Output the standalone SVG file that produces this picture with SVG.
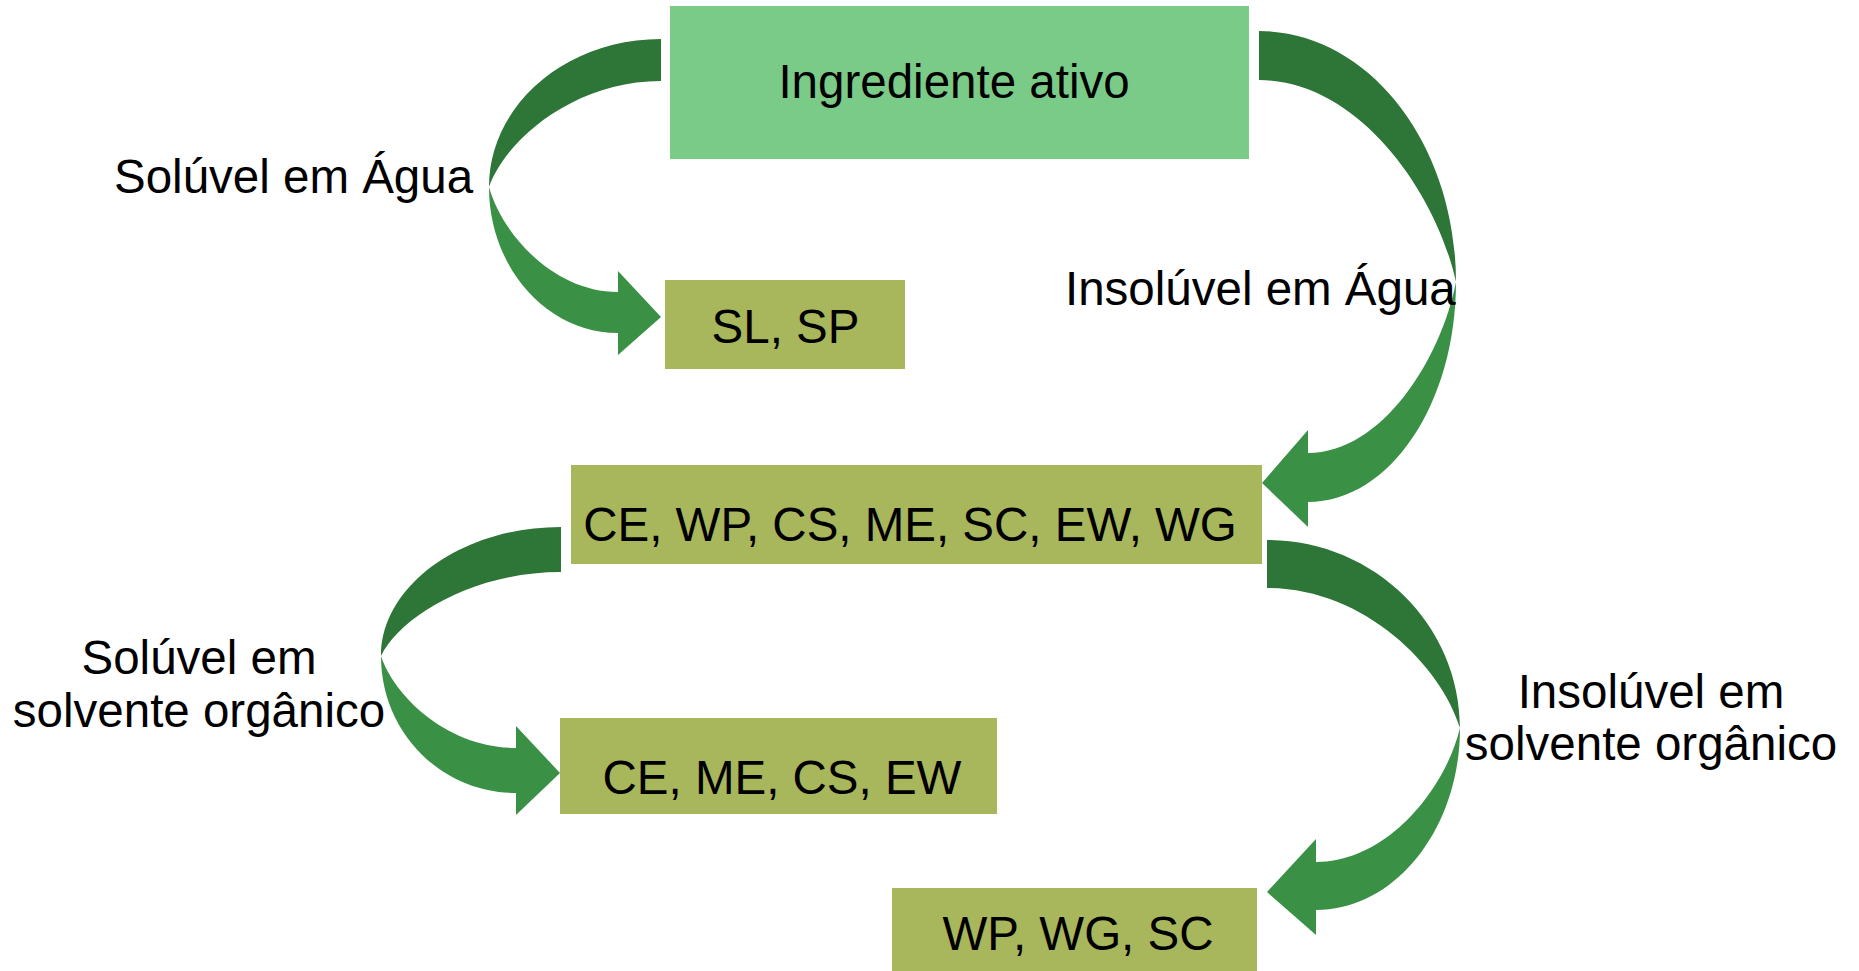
<svg xmlns="http://www.w3.org/2000/svg" width="1859" height="971" viewBox="0 0 1859 971">
<style>
.t{font-family:"Liberation Sans",Arial,sans-serif;font-size:47.5px;fill:#000}
.m{text-anchor:middle}
.top{fill:#7BCB88}
.ol{fill:#A8B65C}
.dk{fill:#2E7538}
.lt{fill:#3A9146}
</style>
<rect width="1859" height="971" fill="#ffffff"/>
<g id="connectors">
  <g id="arrow-soluvel-agua">
    <path class="dk" d="M661,39 C566,39 489,105 489,187 C506,139 575,81 661,81 Z"/>
    <path class="lt" d="M489,187 C489,267.6 547,333 618,333 L618,355 L661,317 L618,271 L618,292 C553.5,292 502,234 489,187 Z"/>
  </g>
  <g id="arrow-insoluvel-agua">
    <path class="dk" d="M1259,31 C1368,31 1456,143 1456,282 C1436,191 1357.5,80 1259,80 Z"/>
    <path class="lt" d="M1456,282 C1456,403.5 1390,502 1308,502 L1308,527 L1262,483 L1308,430 L1308,453 C1382,453 1441,359 1456,282 Z"/>
  </g>
  <g id="arrow-soluvel-solvente">
    <path class="dk" d="M561,527 C461.6,527 381,586 381,656 C399,618 471,572 561,572 Z"/>
    <path class="lt" d="M381,656 C381,732.6 441.4,793 516,793 L516,815 L560,773 L516,726 L516,748 C448.5,748 394.5,697 381,656 Z"/>
  </g>
  <g id="arrow-insoluvel-solvente">
    <path class="dk" d="M1267,540 C1373.6,540 1460,624.2 1460,728 C1440.7,665 1363.5,588 1267,588 Z"/>
    <path class="lt" d="M1460,728 C1460,828.5 1395.5,910 1316,910 L1316,935 L1267,892 L1316,839 L1316,862 C1388,862 1445.6,788 1460,728 Z"/>
  </g>
</g>
<g id="node-ingrediente">
  <rect class="top" x="670" y="6" width="579" height="153"/>
  <text class="t m" x="954" y="98">Ingrediente ativo</text>
</g>
<g id="node-sl-sp">
  <rect class="ol" x="665" y="280" width="240" height="89"/>
  <text class="t m" x="785.5" y="343">SL, SP</text>
</g>
<g id="node-ce-wp">
  <rect class="ol" x="571" y="465" width="691" height="99"/>
  <text class="t m" x="910" y="541">CE, WP, CS, ME, SC, EW, WG</text>
</g>
<g id="node-ce-me">
  <rect class="ol" x="560" y="718" width="437" height="96"/>
  <text class="t m" x="782" y="794">CE, ME, CS, EW</text>
</g>
<g id="node-wp-wg">
  <rect class="ol" x="892" y="888" width="365" height="90"/>
  <text class="t m" x="1078" y="950">WP, WG, SC</text>
</g>
<g id="labels">
  <text class="t" x="114" y="193">Solúvel em Água</text>
  <text class="t" x="1065" y="305">Insolúvel em Água</text>
  <text class="t m" x="199" y="674">Solúvel em</text>
  <text class="t m" x="199" y="727">solvente orgânico</text>
  <text class="t m" x="1651" y="708">Insolúvel em</text>
  <text class="t m" x="1651" y="760">solvente orgânico</text>
</g>
</svg>
